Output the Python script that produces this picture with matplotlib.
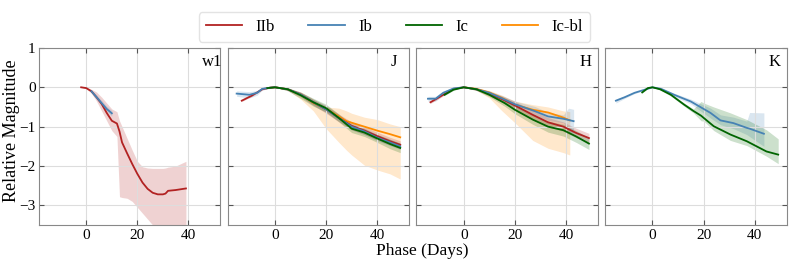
import numpy as np
import matplotlib
matplotlib.use('Agg')
import matplotlib.pyplot as plt

plt.rcParams['font.family'] = ['Liberation Serif', 'DejaVu Serif']

# цвета типов сверхновых
colors = {'IIb': '#b22222', 'Ib': '#4682b4', 'Ic': '#006400', 'Ic-bl': '#ff8c00'}
types = ['IIb', 'Ib', 'Ic', 'Ic-bl']
filters = ['w1', 'J', 'H', 'K']

# ---- w1 ----
w1_IIb_t = [-2, 0, 2, 4, 6, 8, 10, 12, 13, 14, 16, 18, 20, 22, 24, 26, 28, 30, 31, 32, 35, 39]
w1_IIb_m = [0, -0.02, -0.1, -0.25, -0.42, -0.65, -0.85, -0.92, -1.12, -1.4, -1.68, -1.95,
            -2.2, -2.42, -2.58, -2.68, -2.72, -2.72, -2.7, -2.63, -2.61, -2.57]
w1_IIb_hi = [0, 0, -0.05, -0.12, -0.25, -0.4, -0.55, -0.62, -0.85, -1.0, -1.3, -1.6,
             -1.88, -2.02, -2.05, -2.06, -2.06, -2.06, -2.05, -2.03, -2.0, -1.88]
w1_IIb_lo = [0, -0.04, -0.15, -0.35, -0.6, -0.85, -1.1, -1.25, -2.78, -2.8, -2.82, -2.9,
             -3.05, -3.2, -3.35, -3.5, -3.6, -3.7, -3.75, -3.8, -3.9, -4.0]
w1_Ib_t = [2, 4, 6, 8, 10]
w1_Ib_m = [-0.1, -0.25, -0.4, -0.55, -0.66]
w1_Ib_err = [0.04, 0.06, 0.07, 0.07, 0.07]

# ---- J ----
J_IIb_t = [-13, -9, -5, -2, 0, 5, 10, 15, 20, 25, 30, 35, 40, 45, 49]
J_IIb_m = [-0.34, -0.21, -0.05, -0.01, 0, -0.05, -0.18, -0.38, -0.56, -0.78, -0.98, -1.1, -1.24, -1.37, -1.46]
J_IIb_err = [0.02, 0.02, 0.02, 0.01, 0, 0.03, 0.06, 0.08, 0.1, 0.1, 0.1, 0.1, 0.1, 0.1, 0.1]
J_Ib_t = [-15, -10, -7, -5, -2, 0, 5, 10, 15, 20, 25, 30, 35, 40, 45, 49]
J_Ib_m = [-0.16, -0.19, -0.14, -0.04, -0.01, 0, -0.05, -0.18, -0.38, -0.56, -0.78, -1.0, -1.12, -1.28, -1.4, -1.5]
J_Ib_err = [0.07, 0.08, 0.06, 0.03, 0.01, 0, 0.03, 0.05, 0.07, 0.08, 0.08, 0.08, 0.08, 0.08, 0.08, 0.08]
J_Ic_t = [-3, 0, 5, 10, 15, 20, 25, 30, 35, 40, 45, 49]
J_Ic_m = [-0.02, 0, -0.05, -0.2, -0.38, -0.53, -0.78, -1.05, -1.15, -1.3, -1.44, -1.54]
J_Ic_err = [0.01, 0, 0.04, 0.08, 0.1, 0.1, 0.1, 0.1, 0.1, 0.1, 0.12, 0.12]
J_Icbl_t = [-3, 0, 5, 10, 15, 20, 25, 28, 30, 35, 40, 45, 49]
J_Icbl_m = [-0.02, 0, -0.05, -0.18, -0.4, -0.55, -0.74, -0.86, -0.9, -1.0, -1.1, -1.19, -1.27]
J_Icbl_hi = [-0.01, 0, -0.03, -0.12, -0.3, -0.5, -0.53, -0.6, -0.66, -0.76, -0.82, -0.93, -1.0]
J_Icbl_lo = [-0.03, 0, -0.08, -0.3, -0.6, -1.05, -1.4, -1.6, -1.72, -1.98, -2.1, -2.2, -2.33]

# ---- H ----
H_IIb_t = [-13, -8, -4, 0, 5, 10, 15, 20, 27, 33, 39, 44, 49]
H_IIb_m = [-0.38, -0.19, -0.04, 0, -0.05, -0.16, -0.3, -0.46, -0.7, -0.89, -1.0, -1.16, -1.29]
H_IIb_err = [0.03, 0.03, 0.02, 0, 0.03, 0.05, 0.08, 0.1, 0.12, 0.12, 0.12, 0.12, 0.12]
H_Ib_t = [-14, -11, -8, -4, 0, 5, 10, 15, 20, 28, 33, 39, 41, 43]
H_Ib_m = [-0.29, -0.29, -0.14, -0.03, 0, -0.05, -0.14, -0.28, -0.43, -0.61, -0.74, -0.8, -0.83, -0.86]
H_Ib_err = [0.06, 0.06, 0.05, 0.02, 0, 0.03, 0.05, 0.07, 0.08, 0.12, 0.1, 0.1, 0.3, 0.3]
H_Ic_t = [-7.5, -4, 0, 5, 10, 16, 20, 27, 33, 39, 44, 49]
H_Ic_m = [-0.19, -0.06, 0, -0.05, -0.19, -0.4, -0.57, -0.82, -1.0, -1.09, -1.25, -1.43]
H_Ic_err = [0.02, 0.02, 0, 0.03, 0.05, 0.08, 0.1, 0.12, 0.14, 0.15, 0.15, 0.15]
H_Icbl_t = [0, 5, 10, 15, 20, 27, 33, 39, 41.5]
H_Icbl_m = [0, -0.04, -0.13, -0.27, -0.44, -0.57, -0.64, -0.77, -0.84]
H_Icbl_hi = [0, -0.02, -0.08, -0.2, -0.35, -0.44, -0.5, -0.6, -0.62]
H_Icbl_lo = [0, -0.08, -0.27, -0.6, -0.9, -1.35, -1.55, -1.66, -1.72]

# ---- K ----
K_Ib_t = [-14.3, -10.8, -7, -3, 0, 3.4, 8.5, 15, 22.7, 26.6, 31.7, 36.9, 38, 43.6]
K_Ib_m = [-0.34, -0.25, -0.14, -0.06, 0, -0.04, -0.19, -0.36, -0.65, -0.84, -0.91, -1.03, -1.05, -1.18]
K_Ib_hi = [-0.3, -0.22, -0.12, -0.05, 0, -0.02, -0.15, -0.3, -0.53, -0.7, -0.76, -0.86, -0.64, -0.65]
K_Ib_lo = [-0.4, -0.28, -0.16, -0.07, 0, -0.06, -0.23, -0.42, -0.78, -0.95, -1.05, -1.2, -1.25, -1.5]
K_Ic_t = [-4, -1.8, 0, 3, 7.2, 12.4, 16, 19, 20.1, 24, 30.5, 36.9, 44.6, 49.2]
K_Ic_m = [-0.13, -0.02, 0, -0.05, -0.19, -0.44, -0.6, -0.72, -0.78, -0.99, -1.2, -1.37, -1.63, -1.71]
K_Ic_hi = [-0.12, -0.01, 0, -0.03, -0.16, -0.4, -0.55, -0.36, -0.4, -0.5, -0.65, -0.82, -1.08, -1.31]
K_Ic_lo = [-0.14, -0.03, 0, -0.07, -0.22, -0.48, -0.65, -0.85, -0.86, -1.1, -1.35, -1.48, -1.75, -1.94]


def sym(m, err):
    m = np.array(m)
    e = np.array(err)
    return m - e, m + e


series = {
    'w1': [('IIb', w1_IIb_t, w1_IIb_m, w1_IIb_lo, w1_IIb_hi),
           ('Ib', w1_Ib_t, w1_Ib_m, *sym(w1_Ib_m, w1_Ib_err))],
    'J': [('Ic-bl', J_Icbl_t, J_Icbl_m, J_Icbl_lo, J_Icbl_hi),
          ('IIb', J_IIb_t, J_IIb_m, *sym(J_IIb_m, J_IIb_err)),
          ('Ib', J_Ib_t, J_Ib_m, *sym(J_Ib_m, J_Ib_err)),
          ('Ic', J_Ic_t, J_Ic_m, *sym(J_Ic_m, J_Ic_err))],
    'H': [('Ic-bl', H_Icbl_t, H_Icbl_m, H_Icbl_lo, H_Icbl_hi),
          ('IIb', H_IIb_t, H_IIb_m, *sym(H_IIb_m, H_IIb_err)),
          ('Ib', H_Ib_t, H_Ib_m, *sym(H_Ib_m, H_Ib_err)),
          ('Ic', H_Ic_t, H_Ic_m, *sym(H_Ic_m, H_Ic_err))],
    'K': [('Ib', K_Ib_t, K_Ib_m, K_Ib_lo, K_Ib_hi),
          ('Ic', K_Ic_t, K_Ic_m, K_Ic_lo, K_Ic_hi)],
}

fig, axes = plt.subplots(1, 4, figsize=(7.89, 2.62), dpi=100, sharey=True)
fig.subplots_adjust(left=0.0494, right=0.997, top=0.817, bottom=0.141, wspace=0.04)

for ax, f in zip(axes, filters):
    for sn, t, m, lo, hi in series[f]:
        ax.fill_between(t, lo, hi, color=colors[sn], alpha=0.2, lw=0)
    # линии поверх заливок
    for sn, t, m, lo, hi in series[f]:
        ax.plot(t, m, color=colors[sn], lw=1.3)
    ax.set_xlim(-18.5, 52.5)
    ax.set_ylim(-3.5, 1)
    ax.set_xticks([0, 20, 40])
    ax.set_yticks([-3, -2, -1, 0, 1])
    ax.grid(True, color='#dddddd', lw=0.8)
    ax.tick_params(direction='in', top=True, right=True, labelsize=11, pad=2.5, color='#555555')
    for s in ax.spines.values():
        s.set_color('#888888')
    ax.text(0.9, 0.92, f, transform=ax.transAxes, ha='left', va='center', fontsize=12)

fig.text(0.004, 0.5, 'Relative Magnitude', rotation=90, ha='left', va='center', fontsize=13)
fig.text(0.535, 0.01, 'Phase (Days)', ha='center', va='bottom', fontsize=12.5)

handles = [plt.Line2D([], [], color=colors[s], lw=1.3) for s in types]
fig.legend(handles, types, loc='upper center', bbox_to_anchor=(0.5, 0.985), ncol=4,
           fontsize=12, handlelength=2.2, columnspacing=2.0, fancybox=True,
           edgecolor='#dddddd')

fig.savefig('out.png', dpi=100)
